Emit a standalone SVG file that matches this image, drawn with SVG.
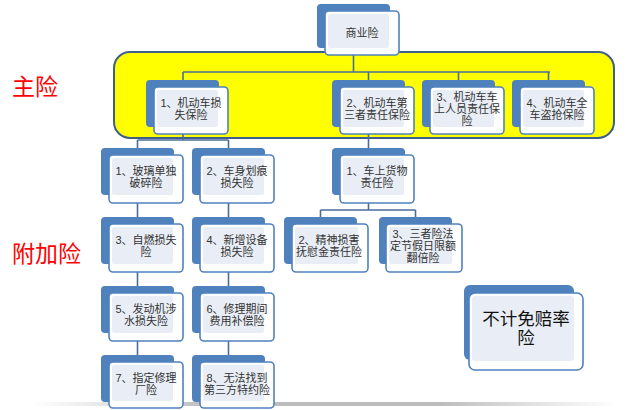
<svg xmlns="http://www.w3.org/2000/svg" width="640" height="410" viewBox="0 0 640 410">
<style>
.back{fill:#4f81bd}
.front{fill:#ffffff;stroke:#4f81bd;stroke-width:1.6}
.inner{fill:#e9eef6}
.t{font-family:"Liberation Sans","Noto Sans CJK SC",sans-serif;font-size:11px;fill:#333333;text-anchor:middle}
.big{font-family:"Liberation Sans","Noto Sans CJK SC",sans-serif;font-size:17.5px;fill:#111111;text-anchor:middle}
.red{font-family:"Noto Sans CJK SC",sans-serif;font-size:23px;fill:#ff0000}
.conn{fill:none;stroke:#4a6d9c;stroke-width:1.6}
</style>
<defs>
<linearGradient id="shadow" x1="0" y1="0" x2="1" y2="0">
<stop offset="0" stop-color="#c8c8c8" stop-opacity="0"/>
<stop offset="0.3" stop-color="#bdbdbd" stop-opacity="1"/>
<stop offset="0.7" stop-color="#bdbdbd" stop-opacity="1"/>
<stop offset="1" stop-color="#c8c8c8" stop-opacity="0"/>
</linearGradient>
</defs>
<rect x="0" y="0" width="640" height="410" fill="#ffffff"/>
<rect x="30" y="402" width="590" height="4" fill="url(#shadow)"/>

<g id="labels">
<text class="red" x="12" y="95">主险</text>
<text class="red" x="12" y="262">附加险</text>
</g>

<g id="main-band">
<rect x="114" y="52" width="500" height="86" rx="16" fill="#ffff00" stroke="#3f5f8a" stroke-width="2"/>
</g>

<g id="connectors">
<path class="conn" d="M353.5 55 V72 M183 72 H550 M183 72 V80 M368.5 72 V80 M458.5 72 V80 M548.5 72 V80"/>
<path class="conn" d="M183 134 V140 M137.5 140 H228.5 M137.5 140 V148 M228.5 140 V148"/>
<path class="conn" d="M137.5 203 V217 M137.5 272 V286 M137.5 341 V355"/>
<path class="conn" d="M228.5 203 V217 M228.5 272 V286 M228.5 341 V355"/>
<path class="conn" d="M368.5 134 V148 M368.5 203 V210 M320.5 210 H415.5 M320.5 210 V217 M415.5 210 V217"/>
</g>

<g id="n-shangye">
<rect class="back" x="317" y="4" width="73" height="44" rx="4"/>
<rect class="front" x="325" y="11" width="74" height="44" rx="4"/>
<rect class="inner" x="328" y="14" width="61" height="34" rx="2"/>
<text class="t" x="362" y="37">商业险</text>
</g>

<g id="m1">
<rect class="back" x="146" y="80" width="73" height="47" rx="4"/>
<rect class="front" x="154" y="87" width="74" height="47" rx="4"/>
<rect class="inner" x="157" y="90" width="61" height="37" rx="2"/>
<text class="t" x="191" y="107">1、机动车损</text>
<text class="t" x="191" y="119">失保险</text>
</g>

<g id="m2">
<rect class="back" x="332" y="80" width="73" height="47" rx="4"/>
<rect class="front" x="340" y="87" width="74" height="47" rx="4"/>
<rect class="inner" x="343" y="90" width="61" height="37" rx="2"/>
<text class="t" x="377" y="107">2、机动车第</text>
<text class="t" x="377" y="119">三者责任保险</text>
</g>

<g id="m3">
<rect class="back" x="422" y="80" width="73" height="47" rx="4"/>
<rect class="front" x="430" y="87" width="74" height="47" rx="4"/>
<rect class="inner" x="433" y="90" width="61" height="37" rx="2"/>
<text class="t" x="467" y="101">3、机动车车</text>
<text class="t" x="467" y="113">上人员责任保</text>
<text class="t" x="467" y="125">险</text>
</g>

<g id="m4">
<rect class="back" x="512" y="80" width="73" height="47" rx="4"/>
<rect class="front" x="520" y="87" width="74" height="47" rx="4"/>
<rect class="inner" x="523" y="90" width="61" height="37" rx="2"/>
<text class="t" x="557" y="107">4、机动车全</text>
<text class="t" x="557" y="119">车盗抢保险</text>
</g>

<g id="a1">
<rect class="back" x="101" y="148" width="73" height="47" rx="4"/>
<rect class="front" x="109" y="155" width="74" height="48" rx="4"/>
<rect class="inner" x="112" y="158" width="61" height="37" rx="2"/>
<text class="t" x="146" y="175">1、玻璃单独</text>
<text class="t" x="146" y="187">破碎险</text>
</g>

<g id="a2">
<rect class="back" x="192" y="148" width="73" height="47" rx="4"/>
<rect class="front" x="200" y="155" width="74" height="48" rx="4"/>
<rect class="inner" x="203" y="158" width="61" height="37" rx="2"/>
<text class="t" x="237" y="175">2、车身划痕</text>
<text class="t" x="237" y="187">损失险</text>
</g>

<g id="a3">
<rect class="back" x="101" y="217" width="73" height="47" rx="4"/>
<rect class="front" x="109" y="224" width="74" height="48" rx="4"/>
<rect class="inner" x="112" y="227" width="61" height="37" rx="2"/>
<text class="t" x="146" y="244">3、自燃损失</text>
<text class="t" x="146" y="256">险</text>
</g>

<g id="a4">
<rect class="back" x="192" y="217" width="73" height="47" rx="4"/>
<rect class="front" x="200" y="224" width="74" height="48" rx="4"/>
<rect class="inner" x="203" y="227" width="61" height="37" rx="2"/>
<text class="t" x="237" y="244">4、新增设备</text>
<text class="t" x="237" y="256">损失险</text>
</g>

<g id="a5">
<rect class="back" x="101" y="286" width="73" height="47" rx="4"/>
<rect class="front" x="109" y="293" width="74" height="48" rx="4"/>
<rect class="inner" x="112" y="296" width="61" height="37" rx="2"/>
<text class="t" x="146" y="313">5、发动机涉</text>
<text class="t" x="146" y="325">水损失险</text>
</g>

<g id="a6">
<rect class="back" x="192" y="286" width="73" height="47" rx="4"/>
<rect class="front" x="200" y="293" width="74" height="48" rx="4"/>
<rect class="inner" x="203" y="296" width="61" height="37" rx="2"/>
<text class="t" x="237" y="313">6、修理期间</text>
<text class="t" x="237" y="325">费用补偿险</text>
</g>

<g id="a7">
<rect class="back" x="101" y="355" width="73" height="47" rx="4"/>
<rect class="front" x="109" y="362" width="74" height="46" rx="4"/>
<rect class="inner" x="112" y="365" width="61" height="36" rx="2"/>
<text class="t" x="146" y="382">7、指定修理</text>
<text class="t" x="146" y="394">厂险</text>
</g>

<g id="a8">
<rect class="back" x="192" y="355" width="73" height="47" rx="4"/>
<rect class="front" x="200" y="362" width="74" height="46" rx="4"/>
<rect class="inner" x="203" y="365" width="61" height="36" rx="2"/>
<text class="t" x="237" y="382">8、无法找到</text>
<text class="t" x="237" y="394">第三方特约险</text>
</g>

<g id="b1">
<rect class="back" x="332" y="148" width="73" height="47" rx="4"/>
<rect class="front" x="340" y="155" width="74" height="48" rx="4"/>
<rect class="inner" x="343" y="158" width="61" height="37" rx="2"/>
<text class="t" x="377" y="175">1、车上货物</text>
<text class="t" x="377" y="187">责任险</text>
</g>

<g id="b2">
<rect class="back" x="284" y="217" width="73" height="47" rx="4"/>
<rect class="front" x="292" y="224" width="76" height="48" rx="4"/>
<rect class="inner" x="295" y="227" width="63" height="37" rx="2"/>
<text class="t" x="329" y="244">2、精神损害</text>
<text class="t" x="329" y="256">抚慰金责任险</text>
</g>

<g id="b3">
<rect class="back" x="379" y="217" width="73" height="47" rx="4"/>
<rect class="front" x="386" y="224" width="76" height="48" rx="4"/>
<rect class="inner" x="389" y="227" width="63" height="37" rx="2"/>
<text class="t" x="423" y="238">3、三者险法</text>
<text class="t" x="423" y="250">定节假日限额</text>
<text class="t" x="423" y="262">翻倍险</text>
</g>

<g id="n-bujimianpei">
<rect class="back" x="464" y="285" width="110" height="75" rx="6"/>
<rect class="front" x="469" y="293" width="114" height="77" rx="6"/>
<rect class="inner" x="472" y="296" width="102" height="65" rx="3"/>
<text class="big" x="526" y="325">不计免赔率</text>
<text class="big" x="526" y="344">险</text>
</g>
</svg>
